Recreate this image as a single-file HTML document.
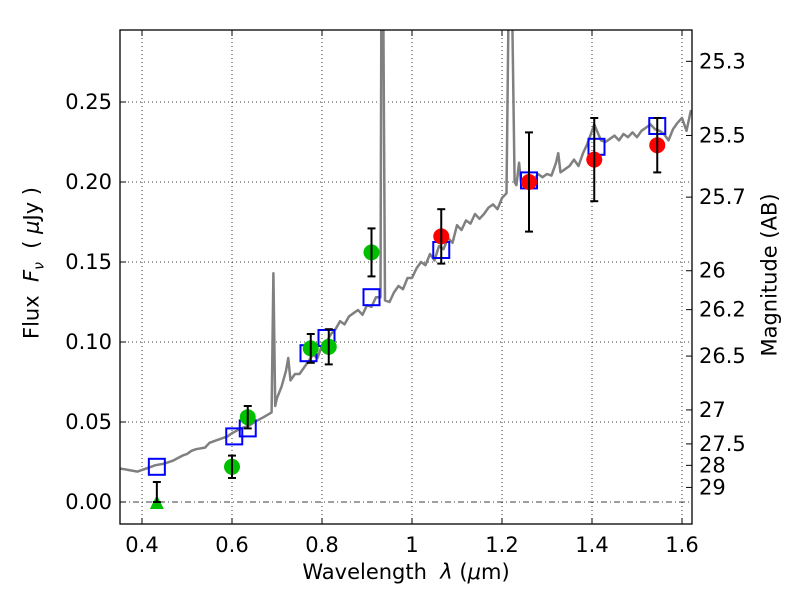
<!DOCTYPE html>
<html><head><meta charset="utf-8"><style>
html,body{margin:0;padding:0;background:#fff;width:800px;height:600px;overflow:hidden;}
svg text{font-family:"DejaVu Sans","Liberation Sans",sans-serif;fill:#000;}
#chart{position:absolute;left:0;top:0;display:block;}
</style></head><body>
<svg id="chart" width="800" height="600" xmlns="http://www.w3.org/2000/svg">
<g id="grid"></g>
<g id="spec"></g>
<g id="marks"></g>
<g id="axes"></g>
</svg>
<script>
const xTicks=[0.4,0.6,0.8,1.0,1.2,1.4,1.6];
const xTickLabels=["0.4","0.6","0.8","1","1.2","1.4","1.6"];
const yTicks=[0,0.05,0.10,0.15,0.20,0.25];
const yTickLabels=["0.00","0.05","0.10","0.15","0.20","0.25"];
const magTicks=[25.3,25.5,25.7,26,26.2,26.5,27,27.5,28,29];
const magLabels=["25.3","25.5","25.7","26","26.2","26.5","27","27.5","28","29"];
const specWave=[0.35,0.37,0.39,0.41,0.43,0.45,0.47,0.49,0.5,0.51,0.52,0.54,0.55,0.57,0.59,0.6,0.62,0.64,0.65,0.67,0.688,0.692,0.696,0.70,0.71,0.72,0.725,0.73,0.74,0.75,0.76,0.77,0.78,0.79,0.8,0.81,0.82,0.83,0.84,0.85,0.86,0.87,0.88,0.89,0.9,0.91,0.92,0.93,0.932,0.936,0.94,0.95,0.96,0.97,0.98,0.99,1.0,1.01,1.02,1.03,1.04,1.05,1.06,1.07,1.08,1.09,1.1,1.11,1.12,1.13,1.14,1.15,1.16,1.17,1.18,1.19,1.2,1.21,1.215,1.222,1.228,1.232,1.238,1.242,1.25,1.26,1.27,1.28,1.29,1.3,1.31,1.32,1.325,1.33,1.34,1.35,1.36,1.37,1.38,1.39,1.405,1.42,1.43,1.44,1.45,1.46,1.47,1.48,1.49,1.5,1.51,1.52,1.53,1.54,1.55,1.56,1.57,1.58,1.59,1.6,1.61,1.62];
const specFlux=[0.021,0.020,0.019,0.021,0.023,0.024,0.026,0.029,0.030,0.032,0.033,0.034,0.037,0.039,0.041,0.043,0.046,0.048,0.050,0.053,0.056,0.143,0.060,0.065,0.072,0.082,0.090,0.076,0.080,0.080,0.084,0.088,0.092,0.090,0.098,0.100,0.105,0.108,0.113,0.111,0.116,0.118,0.120,0.117,0.123,0.122,0.128,0.128,0.32,0.32,0.126,0.125,0.131,0.135,0.133,0.140,0.140,0.146,0.150,0.148,0.155,0.151,0.160,0.158,0.165,0.162,0.173,0.170,0.176,0.174,0.180,0.177,0.180,0.184,0.186,0.183,0.190,0.193,0.32,0.32,0.200,0.198,0.212,0.200,0.198,0.202,0.201,0.205,0.203,0.205,0.204,0.212,0.218,0.206,0.208,0.210,0.214,0.210,0.218,0.224,0.236,0.226,0.225,0.227,0.229,0.226,0.230,0.228,0.231,0.228,0.232,0.234,0.236,0.233,0.232,0.230,0.226,0.233,0.237,0.240,0.232,0.245];
const modelWave=[0.433,0.605,0.635,0.77,0.81,0.91,1.065,1.26,1.41,1.545];
const modelFlux=[0.022,0.041,0.046,0.093,0.1025,0.128,0.1575,0.201,0.222,0.235];
const greenWave=[0.6,0.635,0.775,0.815,0.91];
const greenFlux=[0.022,0.053,0.096,0.097,0.156];
const greenErr=[0.007,0.007,0.009,0.011,0.015];
const redWave=[1.065,1.26,1.405,1.545];
const redFlux=[0.166,0.200,0.214,0.223];
const redErr=[0.017,0.031,0.026,0.017];
const limWave=[0.433];
const limFlux=[0.0];
const limTop=[0.0125];

const L=120,R=692,T=30,B=524;
const X=v=>142+(v-0.4)*450;
const Y=v=>502-v*1600;
const M=m=>Y(Math.pow(10,(23.9-m)/2.5));
const NS="http://www.w3.org/2000/svg";
function mk(p,tag,a){const e=document.createElementNS(NS,tag);for(const k in a)e.setAttribute(k,a[k]);p.appendChild(e);return e;}
const grid=document.getElementById('grid'),spec=document.getElementById('spec'),marks=document.getElementById('marks'),axes=document.getElementById('axes');
mk(grid,'rect',{x:L,y:T,width:R-L,height:B-T,fill:'#fff'});
xTicks.forEach(v=>{const g=mk(grid,'line',{x1:X(v),x2:X(v),y1:T,y2:B,stroke:'#000','stroke-width':0.8,'stroke-dasharray':'1,3'});

});
yTicks.forEach(v=>{if(v===0)return;const g=mk(grid,'line',{x1:L,x2:R,y1:Y(v),y2:Y(v),stroke:'#000','stroke-width':0.8,'stroke-dasharray':'1,3'});

});
const zl=mk(grid,'line',{x1:L,x2:R,y1:Y(0),y2:Y(0),stroke:'#000','stroke-width':0.8,'stroke-dasharray':'6,3,1,3'});


const cp=mk(spec,'clipPath',{id:'clip'});mk(cp,'rect',{x:L,y:T,width:R-L,height:B-T});
const sp=mk(spec,'polyline',{points:specWave.map((w,i)=>X(w)+','+Y(specFlux[i])).join(' '),fill:'none',stroke:'#808080','stroke-width':2.5,'clip-path':'url(#clip)','stroke-linejoin':'round'});


function ebar(x,y1,y2){mk(marks,'line',{x1:x,x2:x,y1:Y(y1),y2:Y(y2),stroke:'#000','stroke-width':2});
[y1,y2].forEach(v=>mk(marks,'line',{x1:x-4,x2:x+4,y1:Y(v),y2:Y(v),stroke:'#000','stroke-width':2}));}
modelWave.forEach((w,i)=>{const r=mk(marks,'rect',{x:X(w)-8,y:Y(modelFlux[i])-8,width:16,height:16,fill:'none',stroke:'#0000ff','stroke-width':2});

});
greenWave.forEach((w,i)=>{const c=mk(marks,'circle',{cx:X(w),cy:Y(greenFlux[i]),r:8,fill:'#00c000'});


ebar(X(w),greenFlux[i]-greenErr[i],greenFlux[i]+greenErr[i]);});
redWave.forEach((w,i)=>{const c=mk(marks,'circle',{cx:X(w),cy:Y(redFlux[i]),r:8,fill:'#ff0000'});


ebar(X(w),redFlux[i]-redErr[i],redFlux[i]+redErr[i]);});
limWave.forEach((w,i)=>{const x=X(w),y=Y(limFlux[i]);const t=mk(marks,'polygon',{points:`${x},${y-7} ${x-7},${y+7} ${x+7},${y+7}`,fill:'#00c000'});


ebar(x,limFlux[i],limTop[i]);});
mk(axes,'rect',{x:L,y:T,width:R-L,height:B-T,fill:'none',stroke:'#000','stroke-width':1.3});
xTicks.forEach((v,i)=>{mk(axes,'line',{x1:X(v),x2:X(v),y1:B,y2:B-6,stroke:'#000'});mk(axes,'line',{x1:X(v),x2:X(v),y1:T,y2:T+6,stroke:'#000'});
const t=mk(axes,'text',{x:X(v),y:B+28,'text-anchor':'middle','font-size':21});t.textContent=xTickLabels[i];

});
yTicks.forEach((v,i)=>{mk(axes,'line',{x1:L,x2:L+6,y1:Y(v),y2:Y(v),stroke:'#000'});
const t=mk(axes,'text',{x:L-8,y:Y(v)+7,'text-anchor':'end','font-size':21});t.textContent=yTickLabels[i];

});
magTicks.forEach((m,i)=>{const y=M(m);mk(axes,'line',{x1:R,x2:R-6,y1:y,y2:y,stroke:'#000'});
const t=mk(axes,'text',{x:699,y:y+7,'text-anchor':'start','font-size':21});t.textContent=magLabels[i];

});
</script>
<div style="position:absolute;left:0;top:0;width:800px;height:600px;overflow:hidden;pointer-events:none;font-family:'DejaVu Sans','Liberation Sans',sans-serif;">
<div style="position:absolute;left:0;width:812px;top:560px;text-align:center;font-size:21px;line-height:25px;">Wavelength&nbsp; <i>λ</i> (<i>μ</i>m)</div>
<div style="position:absolute;left:36px;top:263px;width:0;height:0;"><div style="position:absolute;transform:translate(-50%,-50%) rotate(-90deg);white-space:nowrap;font-size:21px;line-height:25px;">Flux&nbsp; <i>F<sub style="font-size:14px">ν</sub></i>&nbsp; ( <i>μ</i>Jy )</div></div>
<div style="position:absolute;left:770px;top:275px;width:0;height:0;"><div style="position:absolute;transform:translate(-50%,-50%) rotate(-90deg);white-space:nowrap;font-size:21px;line-height:25px;">Magnitude (AB)</div></div>
</div>
</body></html>
